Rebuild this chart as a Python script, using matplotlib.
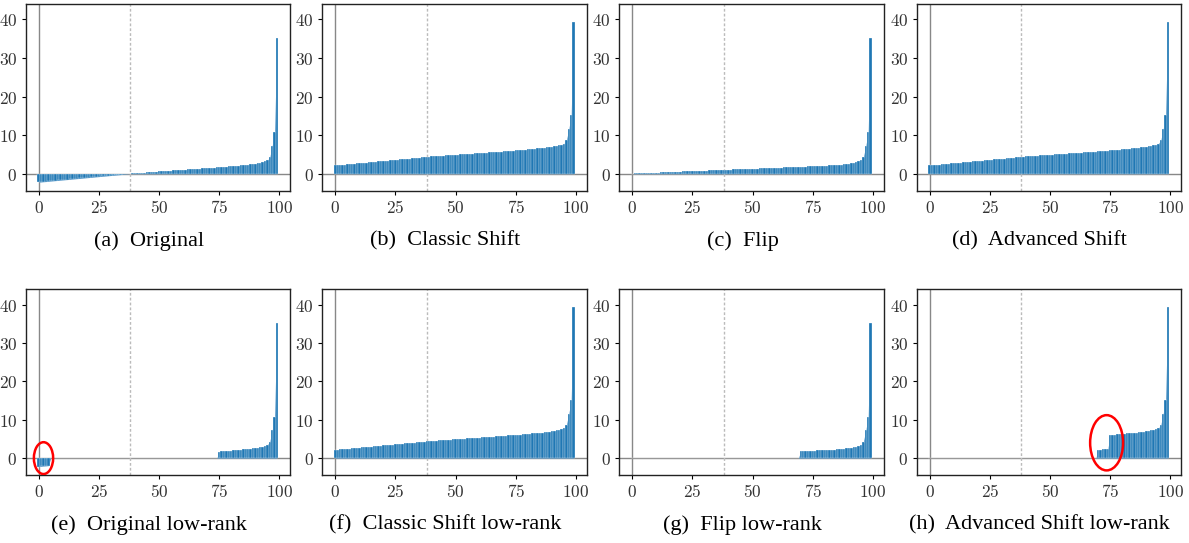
import matplotlib.pyplot as plt
import numpy as np
from matplotlib.patches import Ellipse
from matplotlib.ticker import FuncFormatter

plt.rcParams['mathtext.fontset'] = 'cm'

# sorted spectrum values (100 per panel)
original = [-2.2, -2.14, -2.08, -2.03, -1.97, -1.91, -1.85, -1.79, -1.74, -1.68,
            -1.62, -1.56, -1.51, -1.45, -1.39, -1.33, -1.27, -1.22, -1.16, -1.10,
            -1.04, -0.98, -0.93, -0.87, -0.81, -0.75, -0.69, -0.64, -0.58, -0.52,
            -0.46, -0.41, -0.35, -0.29, -0.23, -0.17, -0.12, -0.06,
            0.02, 0.07, 0.12, 0.17, 0.22, 0.26, 0.31, 0.35, 0.40, 0.44,
            0.49, 0.53, 0.58, 0.62, 0.66, 0.71, 0.75, 0.79, 0.84, 0.88,
            0.92, 0.97, 1.01, 1.05, 1.10, 1.14, 1.18, 1.23, 1.27, 1.32,
            1.36, 1.41, 1.45, 1.50, 1.55, 1.60, 1.65, 1.70, 1.75, 1.80,
            1.85, 1.90, 1.96, 2.01, 2.07, 2.13, 2.19, 2.25, 2.32, 2.39,
            2.47, 2.55, 2.64, 2.74, 2.86, 3.0, 3.2, 3.45, 4.3, 7.2, 10.8, 35.1]

classic_shift = [2.15, 2.21, 2.27, 2.32, 2.38, 2.44, 2.50, 2.56, 2.61, 2.67,
                 2.73, 2.79, 2.84, 2.90, 2.96, 3.02, 3.08, 3.13, 3.19, 3.25,
                 3.31, 3.37, 3.42, 3.48, 3.54, 3.60, 3.66, 3.71, 3.77, 3.83,
                 3.89, 3.94, 4.00, 4.06, 4.12, 4.18, 4.23, 4.29,
                 4.37, 4.42, 4.47, 4.52, 4.57, 4.61, 4.66, 4.70, 4.75, 4.79,
                 4.84, 4.88, 4.93, 4.97, 5.01, 5.06, 5.10, 5.14, 5.19, 5.23,
                 5.27, 5.32, 5.36, 5.40, 5.45, 5.49, 5.53, 5.58, 5.62, 5.67,
                 5.71, 5.76, 5.80, 5.85, 5.90, 5.95, 6.00, 6.05, 6.10, 6.15,
                 6.20, 6.25, 6.31, 6.36, 6.42, 6.48, 6.54, 6.60, 6.67, 6.74,
                 6.82, 6.90, 6.99, 7.09, 7.21, 7.35, 7.55, 7.80, 8.65, 11.55, 15.15, 39.45]

flip = [0.02, 0.06, 0.07, 0.12, 0.12, 0.17, 0.17, 0.22, 0.23, 0.26,
        0.29, 0.31, 0.35, 0.35, 0.40, 0.41, 0.44, 0.46, 0.49, 0.52,
        0.53, 0.58, 0.58, 0.62, 0.64, 0.66, 0.69, 0.71, 0.75, 0.75,
        0.79, 0.81, 0.84, 0.87, 0.88, 0.92, 0.93, 0.97, 0.98, 1.01,
        1.04, 1.05, 1.10, 1.10, 1.14, 1.16, 1.18, 1.22, 1.23, 1.27,
        1.27, 1.32, 1.33, 1.36, 1.39, 1.41, 1.45, 1.45, 1.50, 1.51,
        1.55, 1.56, 1.60, 1.62, 1.65, 1.68, 1.70, 1.74, 1.75, 1.79,
        1.80, 1.85, 1.85, 1.90, 1.91, 1.96, 1.97, 2.01, 2.03, 2.07,
        2.08, 2.13, 2.14, 2.19, 2.2, 2.25, 2.32, 2.39, 2.47, 2.55,
        2.64, 2.74, 2.86, 3.0, 3.2, 3.45, 4.3, 7.2, 10.8, 35.1]

advanced_shift = classic_shift

original_lr = ([-2.2, -2.14, -2.08, -2.03, -1.97] + [0.0] * 70 +
               [1.70, 1.75, 1.80, 1.85, 1.90, 1.96, 2.01, 2.07, 2.13, 2.19,
                2.25, 2.32, 2.39, 2.47, 2.55, 2.64, 2.74, 2.86, 3.0, 3.2,
                3.45, 4.3, 7.2, 10.8, 35.1])

classic_shift_lr = classic_shift

flip_lr = ([0.0] * 70 +
           [1.80, 1.85, 1.85, 1.90, 1.91, 1.96, 1.97, 2.01, 2.03, 2.07,
            2.08, 2.13, 2.14, 2.19, 2.2, 2.25, 2.32, 2.39, 2.47, 2.55,
            2.64, 2.74, 2.86, 3.0, 3.2, 3.45, 4.3, 7.2, 10.8, 35.1])

advanced_shift_lr = ([0.0] * 70 + [2.15, 2.21, 2.27, 2.32, 2.38] +
                     [6.05, 6.10, 6.15, 6.20, 6.25, 6.31, 6.36, 6.42, 6.48, 6.54,
                      6.60, 6.67, 6.74, 6.82, 6.90, 6.99, 7.09, 7.21, 7.35, 7.55,
                      7.80, 8.65, 11.55, 15.15, 39.45])

series = [original, classic_shift, flip, advanced_shift,
          original_lr, classic_shift_lr, flip_lr, advanced_shift_lr]
captions = ['(a)  Original', '(b)  Classic Shift', '(c)  Flip', '(d)  Advanced Shift',
            '(e)  Original low-rank', '(f)  Classic Shift low-rank',
            '(g)  Flip low-rank', '(h)  Advanced Shift low-rank']
# red circles: (panel, x centre, y centre, width, height)
circles = [(4, 2.0, 0.0, 8.0, 8.3), (7, 73.5, 4.0, 13.7, 14.4)]
split_index = 38

W, H = 1189, 543
fig = plt.figure(figsize=(W / 100, H / 100), dpi=100)
lefts = [25.7, 322.3, 619.3, 916.7]
rows = [(4.0, 190.7, 241), (289.3, 475.0, 525)]
fmt = FuncFormatter(lambda v, p: f'${v:g}$')
axes = []
for r, (top, bot, cap_y) in enumerate(rows):
    for c, left in enumerate(lefts):
        ax = fig.add_axes([left / W, 1 - bot / H, 264.3 / W, (bot - top) / H])
        axes.append(ax)
        i = r * 4 + c
        vals = series[i]
        x = np.arange(len(vals))
        ax.axhline(0, color='#888888', lw=1.0, zorder=1)
        ax.axvline(0, color='#888888', lw=1.0, zorder=1)
        ax.axvline(split_index, color='#bbbbbb', lw=1.0, ls=(0, (2, 1.5)), zorder=1)
        ax.fill_between(x, vals, color='#3f8bc4', lw=0, zorder=2)
        ax.bar(x, vals, width=1.0, color='#1f77b4', edgecolor='white', linewidth=0.2, zorder=3)
        ax.set_ylim(-4.4, 44)
        ax.set_xlim(-5.4, 104.4)
        ax.set_xticks([0, 25, 50, 75, 100])
        ax.set_yticks([0, 10, 20, 30, 40])
        ax.xaxis.set_major_formatter(fmt)
        ax.yaxis.set_major_formatter(fmt)
        ax.tick_params(labelsize=12.5, labelcolor='#333333', length=3, width=0.8, pad=3)
        for s in ax.spines.values():
            s.set_linewidth(1.0)
            s.set_color('#222222')
        cx = (left + 264.3 / 2 - 9) / W
        fig.text(cx, 1 - cap_y / H, captions[i], ha='center', va='center',
                 fontsize=16, family='Liberation Serif')

for i, xc, yc, w, h in circles:
    axes[i].add_patch(Ellipse((xc, yc), w, h, fill=False, edgecolor='red', lw=1.8, zorder=5))

fig.savefig('out.png', dpi=100)
